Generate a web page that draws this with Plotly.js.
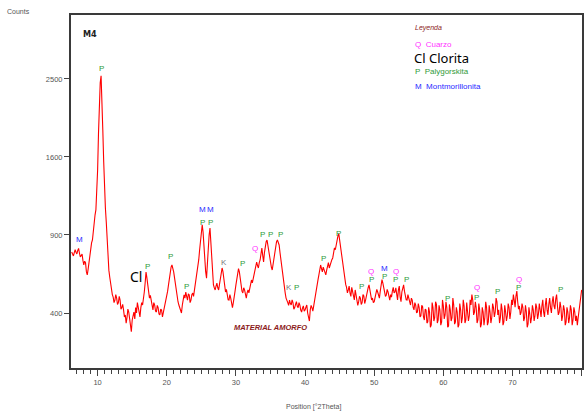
<!DOCTYPE html>
<html>
<head>
<meta charset="utf-8">
<script src="https://cdn.plot.ly/plotly-3.0.1.min.js"></script>
<style>html,body{margin:0;padding:0;background:#fff}#chart{width:584px;height:412px}</style>
</head>
<body>
<div id="chart"></div>
<script>
// Scan grid: 2Theta from 6.25 to 80.0 in 0.125 degree steps
const thetaStart = 6.25;
const thetaStep = 0.125;
// Counts (one row per degree: d.0, d.125 ... d.875)
const counts = [
  774, 752, 746, 770, 790, 772,
  760, 785, 800, 765, 740, 748, 760, 715,
  684, 710, 700, 640, 619, 655, 704, 760,
  803, 840, 862, 935, 1019, 1060, 1103, 1250,
  1469, 1850, 2238, 2450, 2540, 2280, 1889, 1560,
  1279, 1120, 1003, 850, 732, 650, 606, 560,
  527, 500, 486, 455, 469, 500, 480, 445,
  455, 490, 469, 420, 428, 445, 416, 380,
  390, 350, 377, 420, 405, 360, 341, 310,
  365, 390, 405, 370, 428, 400, 455, 430,
  405, 380, 428, 455, 442, 470, 515, 570,
  638, 600, 557, 510, 480, 495, 460, 430,
  416, 455, 442, 410, 405, 440, 428, 395,
  390, 420, 416, 380, 400, 430, 455, 470,
  498, 520, 557, 600, 638, 670, 684, 665,
  638, 600, 557, 520, 486, 460, 442, 425,
  416, 400, 442, 470, 498, 480, 515, 490,
  469, 505, 498, 455, 469, 500, 509, 490,
  527, 560, 587, 620, 664, 720, 788, 870,
  955, 980, 922, 800, 704, 640, 599, 700,
  825, 900, 955, 850, 704, 620, 557, 540,
  527, 550, 568, 540, 527, 560, 587, 620,
  664, 640, 599, 550, 515, 530, 498, 470,
  469, 500, 480, 440, 428, 455, 480, 520,
  557, 590, 619, 660, 638, 590, 557, 520,
  509, 540, 527, 495, 480, 510, 527, 510,
  542, 565, 587, 570, 599, 620, 638, 680,
  704, 680, 664, 700, 718, 760, 803, 750,
  704, 770, 825, 850, 862, 820, 788, 730,
  684, 670, 651, 690, 732, 770, 803, 850,
  862, 845, 825, 770, 718, 660, 619, 590,
  557, 510, 480, 470, 455, 440, 469, 450,
  442, 470, 455, 420, 428, 445, 460, 435,
  428, 455, 442, 415, 405, 425, 437, 410,
  416, 430, 442, 400, 377, 360, 416, 440,
  428, 410, 437, 470, 498, 525, 557, 590,
  619, 650, 684, 660, 638, 670, 651, 630,
  619, 650, 684, 700, 664, 690, 704, 720,
  732, 770, 803, 790, 825, 870, 892, 910,
  862, 800, 732, 690, 651, 620, 587, 560,
  542, 510, 527, 550, 509, 490, 542, 520,
  498, 470, 527, 500, 469, 440, 460, 490,
  480, 445, 455, 500, 492, 450, 469, 500,
  509, 540, 557, 520, 498, 470, 480, 455,
  460, 480, 498, 530, 515, 490, 480, 520,
  557, 590, 568, 540, 527, 490, 498, 530,
  515, 480, 469, 500, 486, 520, 542, 510,
  515, 540, 498, 470, 527, 550, 486, 460,
  515, 540, 557, 520, 498, 470, 469, 500,
  480, 450, 442, 480, 469, 430, 416, 455,
  442, 400, 405, 450, 428, 380, 386, 440,
  433, 380, 365, 420, 416, 350, 356, 430,
  405, 330, 341, 455, 428, 360, 377, 460,
  446, 350, 365, 440, 416, 340, 356, 470,
  437, 370, 390, 460, 428, 330, 336, 445,
  416, 360, 377, 480, 442, 345, 356, 430,
  405, 330, 341, 450, 416, 350, 377, 470,
  437, 350, 365, 455, 416, 360, 386, 470,
  442, 500, 469, 390, 405, 460, 428, 350,
  365, 450, 416, 330, 346, 430, 405, 340,
  377, 460, 428, 340, 356, 440, 405, 350,
  377, 450, 428, 380, 405, 480, 460, 390,
  416, 350, 377, 450, 416, 340, 356, 440,
  405, 360, 386, 450, 428, 370, 405, 470,
  442, 500, 469, 430, 492, 520, 460, 420,
  437, 390, 405, 450, 428, 360, 377, 440,
  405, 330, 346, 430, 395, 350, 377, 440,
  416, 360, 386, 450, 428, 370, 395, 450,
  416, 380, 437, 470, 405, 380, 442, 480,
  416, 390, 446, 480, 428, 400, 460, 490,
  437, 420, 474, 500, 437, 390, 405, 460,
  428, 360, 386, 440, 416, 340, 356, 430,
  405, 350, 377, 440, 416, 340, 365, 430,
  405, 360, 386, 340, 377, 420, 469, 500,
  527
];

// Axis ticks (counts axis is drawn on a square-root scale)
const yTickCounts = [400, 900, 1600, 2500];
const xTickLabels = [10, 20, 30, 40, 50, 60, 70, 80];

// Phase labels above peaks
const labelText   = ['M','P','P','P','P','M','P','M','P','K','P','Q','P','P','P','K','P','P','P','P','Q','P','M','P','Q','P','P','P','Q','P','P','Q','P','P'];
const labelTheta  = [7.32,10.49,17.26,20.58,22.9,25.19,25.19,26.34,26.34,28.22,30.95,32.83,33.83,34.99,36.43,37.7,38.8,42.6,44.8,48.1,49.54,49.54,51.55,51.55,53.1,53.1,54.6,60.6,64.8,64.8,67.9,70.9,70.9,76.9];
const labelCounts = [862,2630,677,739,550,1103,995,1103,995,704,697,796,900,900,900,539,539,725,915,545,644,593,664,606,638,593,593,478,539,486,515,593,539,527];

const legendItems = ['Q  Cuarzo', 'Cl Clorita', 'P  Palygorskita', 'M  Montmorillonita'];

const theta = counts.map((_, i) => thetaStart + i * thetaStep);
const sq = v => Math.sqrt(v);

const colorOf = {P: '#2f9a3a', M: '#2a2aff', Q: '#ff33ff', K: '#7a7a7a'};

const annotations = [];
labelText.forEach((t, i) => {
  annotations.push({x: labelTheta[i], y: sq(labelCounts[i]), xref: 'x', yref: 'y', text: t,
    showarrow: false, bgcolor: 'rgba(255,255,255,0)',
    font: {family: 'Liberation Sans', size: 8, color: colorOf[t]}});
});
const W = 511, H = 353, L = 71, T = 15;
const px = v => (v - L) / W, py = v => (T + H - v) / H;
function ann(text, x, y, size, color, anchor, extra) {
  annotations.push(Object.assign({text, x: px(x), y: py(y), xref: 'paper', yref: 'paper', showarrow: false,
    xanchor: anchor || 'center', yanchor: 'middle',
    font: {family: 'Liberation Sans', size, color}}, extra || {}));
}
ann('Counts', 18, 11, 7, '#555');
ann('<b>M4</b>', 81, 34, 9, '#222', 'left', {font: {family: 'DejaVu Sans Condensed', size: 9, color: '#222'}});
ann('Position [°2Theta]', 313, 407, 7, '#555');
ann('<i>Leyenda</i>', 413, 28, 7, '#8b1a1a', 'left');
ann(legendItems[0], 413, 45, 8, '#ff33ff', 'left');
ann(legendItems[1], 412, 58, 13, '#000', 'left', {font: {family: 'Noto Sans', size: 13, color: '#000'}});
ann(legendItems[2], 413, 72, 8, '#2f9a3a', 'left');
ann(legendItems[3], 413, 86, 8, '#2a2aff', 'left');
ann('<b><i>MATERIAL AMORFO</i></b>', 270, 327, 7.5, '#8b1a1a');
annotations.push({x: 15.5, y: sq(612), xref: 'x', yref: 'y', text: 'Cl', showarrow: false,
  font: {family: 'Noto Sans', size: 14, color: '#000'}});

const trace = {x: theta, y: counts.map(sq), type: 'scatter', mode: 'lines',
  line: {color: '#ff0000', width: 1.1}, hoverinfo: 'skip'};

const layout = {
  width: 584, height: 412,
  margin: {l: L, r: 584 - L - W, t: T, b: 412 - T - H},
  paper_bgcolor: '#fff', plot_bgcolor: '#fff',
  showlegend: false,
  xaxis: {range: [6.15, 80.05], showgrid: false, zeroline: false,
    showline: true, mirror: true, linecolor: '#3a3a3a', linewidth: 2,
    tickmode: 'array', tickvals: xTickLabels, ticktext: xTickLabels.map(String),
    ticks: 'outside', ticklen: 6, tickwidth: 1, tickcolor: '#444',
    minor: {dtick: 1, tick0: 0, ticks: 'outside', ticklen: 4, tickcolor: '#444', tickwidth: 1, showgrid: false},
    tickfont: {family: 'Liberation Sans', size: 7.5, color: '#555'}},
  yaxis: {range: [12.95, 58.2], showgrid: false, zeroline: false,
    showline: true, mirror: true, linecolor: '#3a3a3a', linewidth: 2,
    tickmode: 'array', tickvals: yTickCounts.map(sq), ticktext: yTickCounts.map(String),
    ticks: 'outside', ticklen: 5, tickwidth: 1, tickcolor: '#444',
    tickfont: {family: 'Liberation Sans', size: 7.5, color: '#555'}},
  annotations
};
Plotly.newPlot('chart', [trace], layout, {displayModeBar: false, staticPlot: true});
</script>
</body>
</html>
